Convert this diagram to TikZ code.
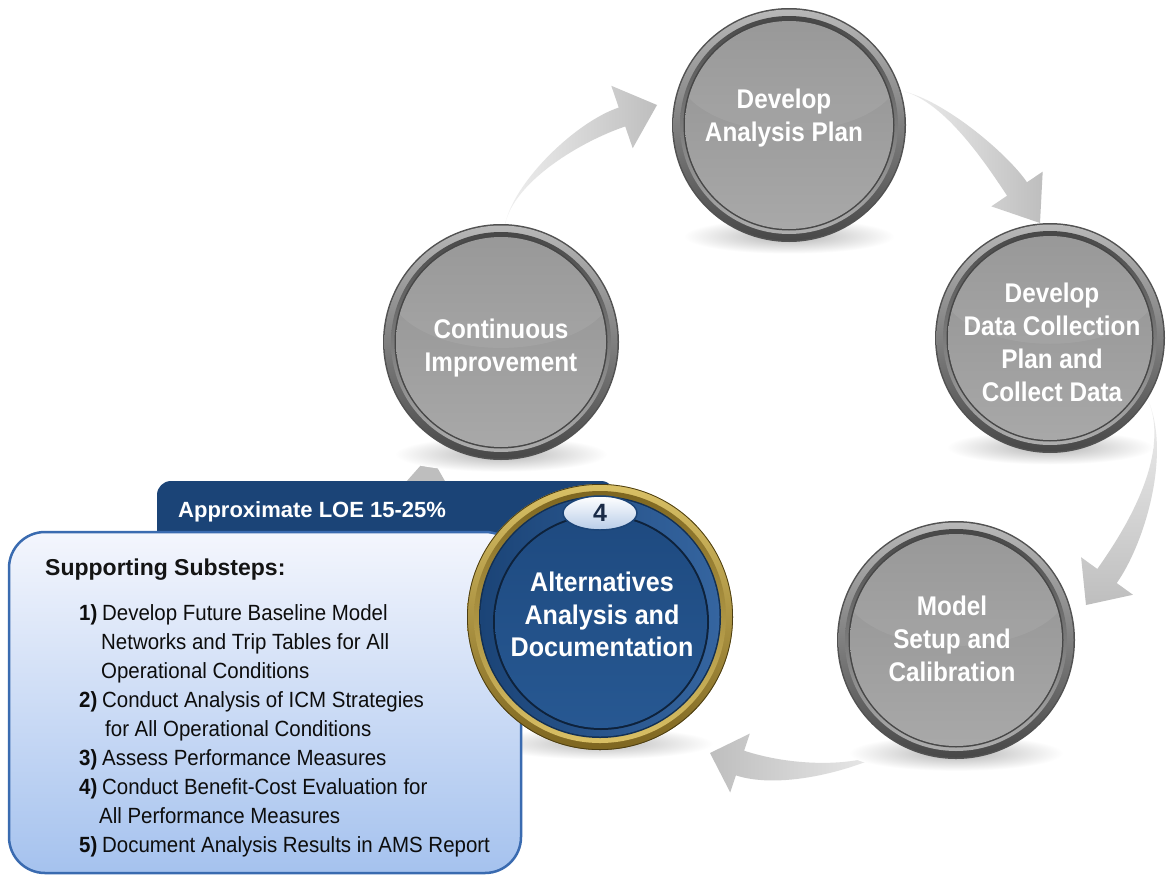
\documentclass[tikz,border=0pt]{standalone}
\usepackage{fontspec}
\setmainfont{Liberation Sans}
\newfontfamily\cndA{Liberation Sans}[FakeStretch=0.9]
\newfontfamily\cndB{Liberation Sans}[FakeStretch=0.93]
\usetikzlibrary{calc}
\definecolor{ag}{HTML}{BEBEBE}
\definecolor{goldL}{HTML}{D9C065}
\definecolor{goldD}{HTML}{7E6620}
\definecolor{navy}{HTML}{1B4477}
\definecolor{ringblue}{HTML}{3565A0}
\definecolor{faceblueT}{HTML}{1E4A80}
\definecolor{faceblueB}{HTML}{275892}
\definecolor{boxT}{HTML}{F4F6FD}
\definecolor{boxB}{HTML}{A5C2EE}
\definecolor{boxline}{HTML}{3A6BB0}
\definecolor{badgeB}{HTML}{B8CCE8}
\definecolor{txtnavy}{HTML}{1A2B47}
\tikzset{
  disc/.style={circle, inner sep=0pt, draw=none},
  disctext/.style={text=white, align=center, inner sep=0pt, font=\cndA\bfseries\fontsize{27}{33}\selectfont},
  alttext/.style={text=white, align=center, inner sep=0pt, font=\cndB\bfseries\fontsize{27}{32.5}\selectfont},
  badgetext/.style={text=txtnavy, inner sep=0pt, font=\bfseries\fontsize{25}{28}\selectfont},
  tabtext/.style={text=white, anchor=base west, inner sep=0pt, font=\bfseries\fontsize{22}{26}\selectfont},
  headtext/.style={text=black!92, anchor=base west, inner sep=0pt, font=\bfseries\fontsize{23}{28}\selectfont},
  itemtext/.style={text=black!95, anchor=base west, inner sep=0pt, font=\cndB\fontsize{22}{29}\selectfont},
  arrowR/.style={left color=ag!25!white, right color=ag},
  arrowL/.style={right color=ag!25!white, left color=ag},
  arrowD/.style={top color=ag!25!white, bottom color=ag},
  arrowU/.style={fill=ag},
}
\newcommand{\taparrow}[8]{%
  \coordinate (tmpMu) at ($(#4)!#6!90:(#5)$);
  \coordinate (tmpMl) at ($(#4)!#6!-90:(#5)$);
  \coordinate (tmpHu) at ($(#4)!#7!90:(#5)$);
  \coordinate (tmpHl) at ($(#4)!#7!-90:(#5)$);
  \coordinate (tmpCu) at ($(#3)+(tmpMu)-(#4)$);
  \coordinate (tmpCl) at ($(#3)+(tmpMl)-(#4)$);
  \path[#8] (#1) .. controls (#2) and (tmpCu) .. (tmpMu) -- (tmpHu) -- (#5) -- (tmpHl) -- (tmpMl) .. controls (tmpCl) and (#2) .. (#1) -- cycle;
}
\newcommand{\graydeco}[3]{%
  \shade[inner color=black!30, outer color=white] (#1,#2+0.95*#3) ellipse [x radius=0.9*#3, y radius=0.15*#3];
  \fill[black!68] (#1,#2) circle [radius=#3];
  \shade[shading angle=-35, top color=black!28, bottom color=black!72] (#1,#2) circle [radius=#3-1.5];
  \shade[shading angle=-35, top color=black!72, bottom color=black!32] (#1,#2) circle [radius=#3-8];
  \fill[black!72] (#1,#2) circle [radius=#3-11.5];
  \shade[top color=black!43, middle color=black!50, bottom color=black!34] (#1,#2) circle [radius=#3-13];
  \begin{scope}
    \clip (#1,#2) circle [radius=#3-13];
    \fill[white, opacity=0.07] (#1,#2-0.45*#3) ellipse [x radius=0.95*#3, y radius=0.5*#3];
  \end{scope}
}
\begin{document}
\begin{tikzpicture}[x=1pt,y=-1pt]
\useasboundingbox (0,0) rectangle (1167,878);
\fill[white] (0,0) rectangle (1167,878);

% named discs (positions)
\node[disc, minimum size=234pt] (plan) at (789,125) {};
\node[disc, minimum size=230pt] (data) at (1050,338) {};
\node[disc, minimum size=238pt] (model) at (956,640) {};
\node[disc, minimum size=236pt] (cont) at (501,342) {};
\node[disc, minimum size=266pt] (alt) at (600,617) {};

% arrow tips
\coordinate (a1tip) at (657,105);
\coordinate (a2tip) at (1040,223);
\coordinate (a3tip) at (1086,605);
\coordinate (a4tip) at (710,753);
\coordinate (a5tip) at (430,455);

% connectors (tapered arrows)
\taparrow{cont.88}{515,180}{580,131}{622,117}{a1tip}{10pt}{33pt}{arrowR}
\taparrow{plan.17}{945,100}{999,162}{1017,189}{a2tip}{12pt}{31pt}{arrowR}
\taparrow{data.-32}{1172,455}{1134,538}{1107,576}{a3tip}{12pt}{32pt}{arrowD}
\taparrow{model.242}{860,770}{785,778}{740,763}{a4tip}{13pt}{31pt}{arrowL}
\taparrow{alt.150}{455,520}{432,500}{427,484}{a5tip}{10pt}{21pt}{arrowU}

% gray discs
\graydeco{789}{125}{117}
\graydeco{1050}{338}{115}
\graydeco{956}{640}{119}
\graydeco{501}{342}{118}

% shadow of the blue disc (behind the box)
\shade[inner color=black!28, outer color=white] (600,617+0.95*133) ellipse [x radius=0.85*133, y radius=0.12*133];

% tab and box
\fill[navy, rounded corners=14] (157,550) -- (157,481) -- (615,481) -- (615,550) -- cycle;
\node[tabtext] (tab) at (178,517) {Approximate LOE 15-25\%};
\shade[top color=boxT, bottom color=boxB, draw=boxline, line width=2.5, rounded corners=36] (9,532) rectangle (521,873);

% blue disc
\shade[shading angle=30, top color=goldL, bottom color=goldD] (600,617) circle [radius=133];
\draw[goldD!60!black, line width=0.8] (600,617) circle [radius=132.6];
\shade[shading angle=30, top color=goldD, bottom color=goldL] (600,617) circle [radius=126];
\fill[navy!70!black] (600,617) circle [radius=121];
\shade[left color=navy, right color=ringblue] (600,617) circle [radius=119.5];
\fill[navy!50!black] (601,622) circle [radius=108];
\shade[top color=faceblueT, bottom color=faceblueB] (601,622) circle [radius=106];
\shade[top color=white, bottom color=badgeB, draw=navy, line width=1.5] (600,513) ellipse [x radius=37, y radius=17];
\node[badgetext] (badge) at (600,513) {4};

% disc texts
\node[disctext] (plantxt) at (784,117.6) {Develop\\Analysis Plan};
\node[disctext] (datatxt) at (1052,342) {Develop\\Data Collection\\Plan and\\Collect Data};
\node[disctext] (conttxt) at (501,347.8) {Continuous\\Improvement};
\node[disctext] (modeltxt) at (952,638.5) {Model\\Setup and\\Calibration};
\node[alttext] (alttxt) at (602,614.5) {Alternatives\\Analysis and\\Documentation};

% box texts
\node[headtext] (head) at (45,575) {Supporting Substeps:};
\node[itemtext] (i1) at (79,620) {\makebox[23pt][l]{\bfseries 1)}Develop Future Baseline Model};
\node[itemtext] (i1b) at (101,649.1) {Networks and Trip Tables for All};
\node[itemtext] (i1c) at (101,678.2) {Operational Conditions};
\node[itemtext] (i2) at (79,707.3) {\makebox[23pt][l]{\bfseries 2)}Conduct Analysis of ICM Strategies};
\node[itemtext] (i2b) at (105,736.4) {for All Operational Conditions};
\node[itemtext] (i3) at (79,765.5) {\makebox[23pt][l]{\bfseries 3)}Assess Performance Measures};
\node[itemtext] (i4) at (79,794.6) {\makebox[23pt][l]{\bfseries 4)}Conduct Benefit-Cost Evaluation for};
\node[itemtext] (i4b) at (99,823.7) {All Performance Measures};
\node[itemtext] (i5) at (79,852.8) {\makebox[23pt][l]{\bfseries 5)}Document Analysis Results in AMS Report};
\end{tikzpicture}
\end{document}
